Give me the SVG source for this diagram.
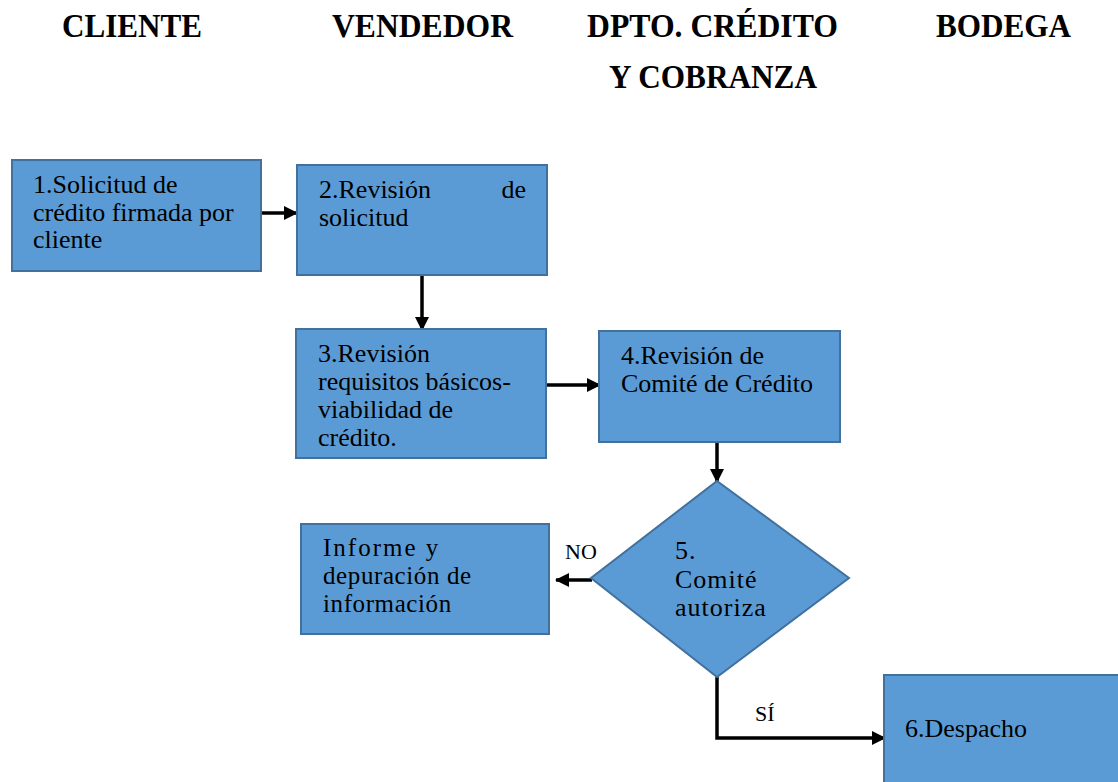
<svg xmlns="http://www.w3.org/2000/svg" width="1118" height="782" viewBox="0 0 1118 782">
  <style>
    .box { fill: #5b9bd5; stroke: #41719c; stroke-width: 2; }
    .conn { fill: none; stroke: #000; stroke-width: 3.5; }
  </style>
  <defs>
    <marker id="arrow" markerUnits="userSpaceOnUse" markerWidth="14" markerHeight="14" refX="13" refY="7" orient="auto">
      <path d="M0,0 L14,7 L0,14 z" fill="#000"/>
    </marker>
  </defs>
  <rect width="1118" height="782" fill="#ffffff"/>

  <!-- Lane headings -->
  <g id="headings" font-family="Liberation Serif" font-weight="bold" font-size="33">
    <text x="62" y="37" textLength="140" lengthAdjust="spacingAndGlyphs">CLIENTE</text>
    <text x="332" y="37" textLength="181" lengthAdjust="spacingAndGlyphs">VENDEDOR</text>
    <text x="587" y="37" textLength="251" lengthAdjust="spacingAndGlyphs">DPTO. CRÉDITO</text>
    <text x="936" y="37" textLength="135" lengthAdjust="spacingAndGlyphs">BODEGA</text>
    <text x="609" y="88" textLength="208" lengthAdjust="spacingAndGlyphs">Y COBRANZA</text>
  </g>

  <!-- Connectors -->
  <g id="connectors">
    <path class="conn" d="M261,213 L297,213" marker-end="url(#arrow)"/>
    <path class="conn" d="M422,275 L422,330" marker-end="url(#arrow)"/>
    <path class="conn" d="M546,385 L600,385" marker-end="url(#arrow)"/>
    <path class="conn" d="M717,442 L717,482" marker-end="url(#arrow)"/>
    <path class="conn" d="M592,580 L556,580" marker-end="url(#arrow)"/>
    <path class="conn" d="M717,677 L717,738 L885,738" marker-end="url(#arrow)"/>
    <g font-family="Liberation Serif" font-size="22">
      <text x="565" y="559">NO</text>
      <text x="755" y="721">SÍ</text>
    </g>
  </g>

  <g id="n1">
    <rect class="box" x="12" y="160" width="249" height="111"/>
    <g font-family="Liberation Serif" font-size="26">
      <text x="33" y="193">1.Solicitud de</text>
      <text x="33" y="221">crédito firmada por</text>
      <text x="33" y="248">cliente</text>
    </g>
  </g>

  <g id="n2">
    <rect class="box" x="297" y="165" width="250" height="110"/>
    <g font-family="Liberation Serif" font-size="26">
      <text x="319" y="198">2.Revisión</text>
      <text x="526" y="198" text-anchor="end">de</text>
      <text x="319" y="226">solicitud</text>
    </g>
  </g>

  <g id="n3">
    <rect class="box" x="296" y="329" width="250" height="129"/>
    <g font-family="Liberation Serif" font-size="26">
      <text x="318" y="362">3.Revisión</text>
      <text x="318" y="390">requisitos básicos-</text>
      <text x="318" y="418">viabilidad de</text>
      <text x="318" y="446">crédito.</text>
    </g>
  </g>

  <g id="n4">
    <rect class="box" x="599" y="331" width="241" height="111"/>
    <g font-family="Liberation Serif" font-size="26">
      <text x="621" y="364">4.Revisión de</text>
      <text x="621" y="392">Comité de Crédito</text>
    </g>
  </g>

  <g id="n5">
    <polygon class="box" points="717,481 849,578 717,677 591,578"/>
    <g font-family="Liberation Serif" font-size="26" letter-spacing="1">
      <text x="675" y="559">5.</text>
      <text x="675" y="588">Comité</text>
      <text x="675" y="616">autoriza</text>
    </g>
  </g>

  <g id="n-informe">
    <rect class="box" x="301" y="524" width="248" height="110"/>
    <g font-family="Liberation Serif" font-size="25" letter-spacing="0.6">
      <text x="323" y="556" letter-spacing="2">Informe y</text>
      <text x="323" y="584">depuración de</text>
      <text x="323" y="612">información</text>
    </g>
  </g>

  <g id="n6">
    <rect class="box" x="884" y="675" width="245" height="120"/>
    <g font-family="Liberation Serif" font-size="26">
      <text x="905" y="737">6.Despacho</text>
    </g>
  </g>
</svg>
